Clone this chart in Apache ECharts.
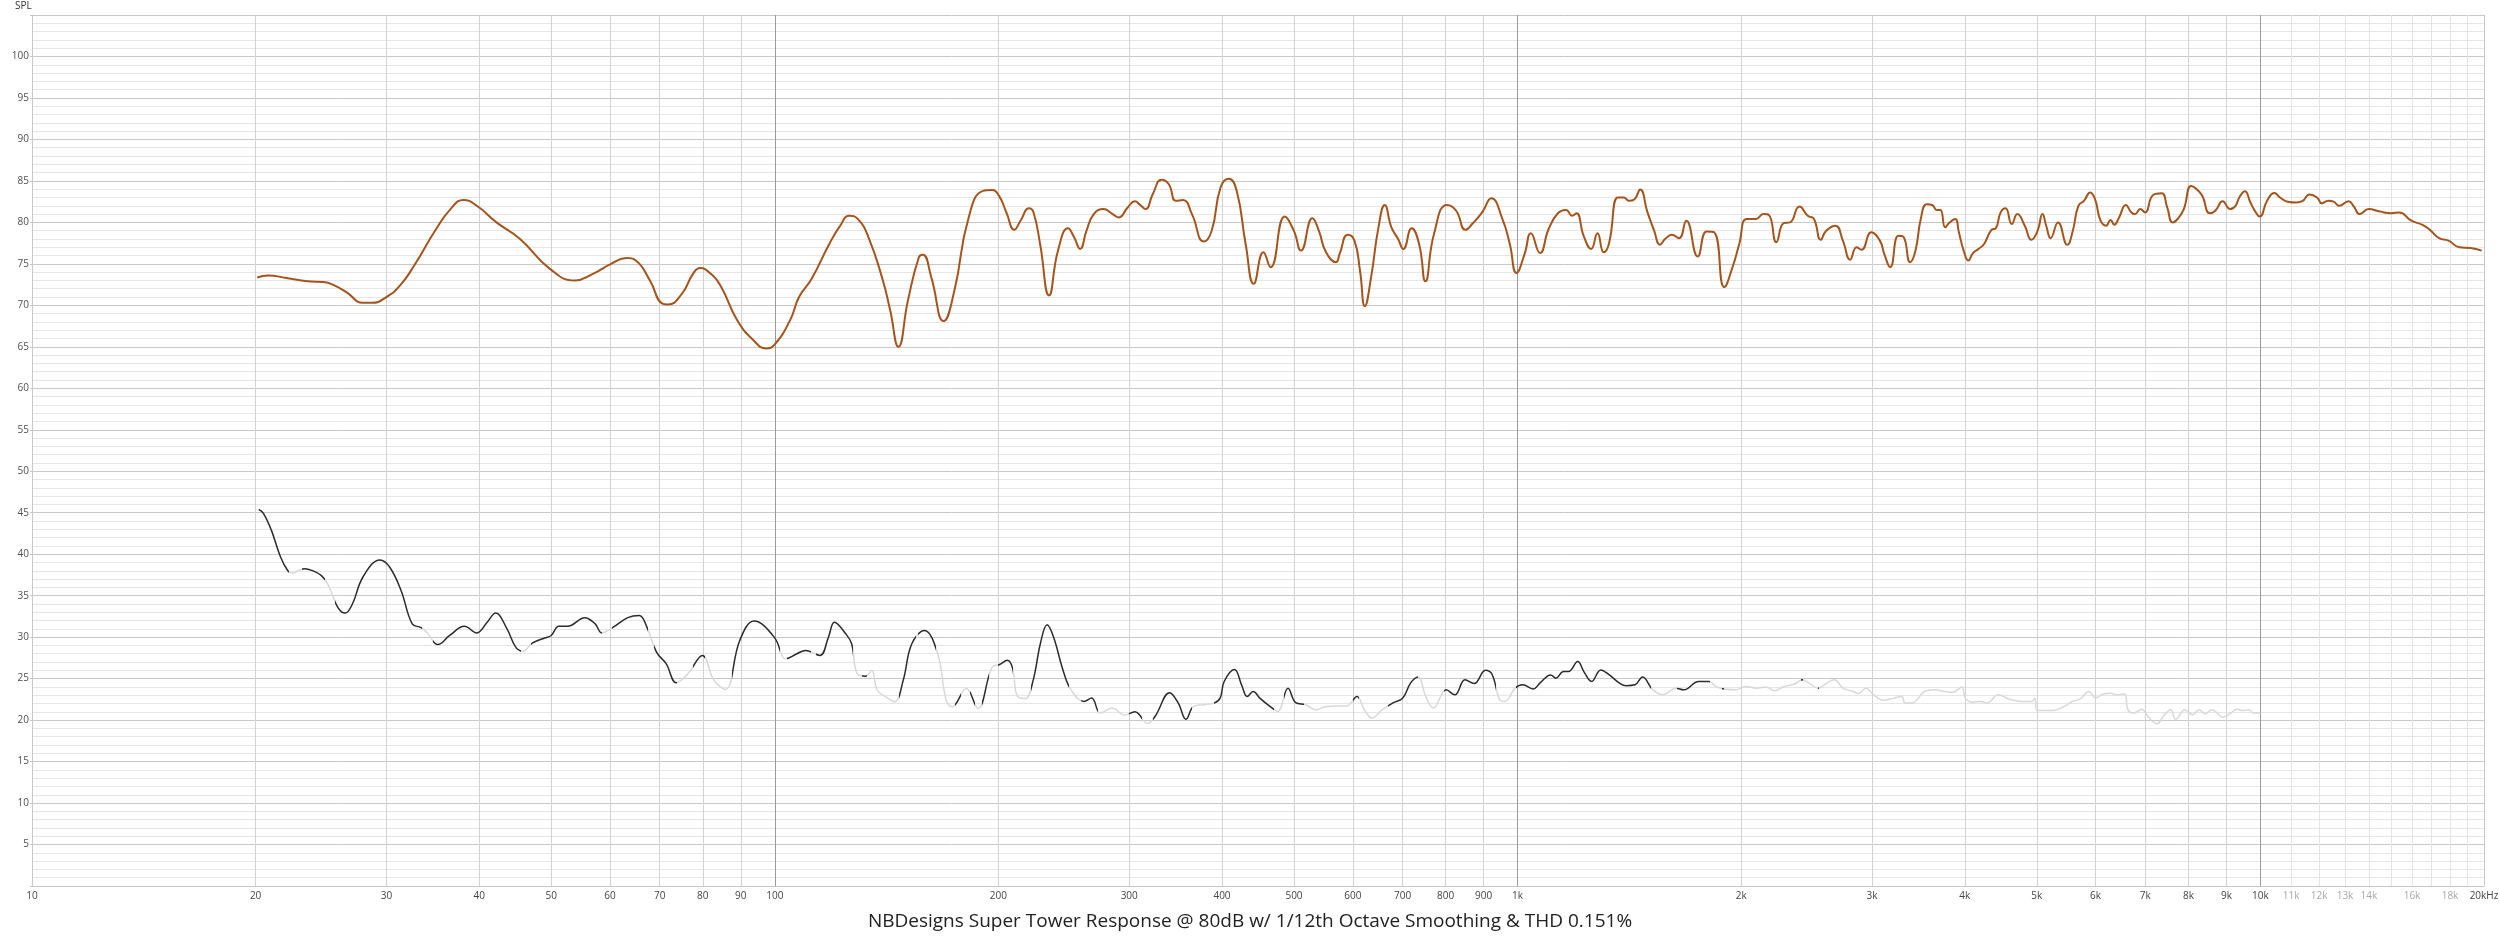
<!DOCTYPE html>
<html>
<head>
<meta charset="utf-8">
<script src="https://cdn.jsdelivr.net/npm/echarts@6/dist/echarts.min.js"></script>
<style>
html,body{margin:0;padding:0;background:#fff;}
#chart{width:2500px;height:939px;}
</style>
</head>
<body>
<div id="chart"></div>
<script>
// ---- Data ----
const splFreq = [20.1,20.8,22.0,23.5,24.7,25.4,26.5,27.9,28.7,30.0,31.3,32.7,35.0,36.6,38.1,39.7,42.2,45.4,49.8,53.8,56.9,60.2,63.2,65.0,67.9,70.6,71.8,75.0,77.6,79.3,82.0,84.7,89.0,93.6,97.3,100,104.9,107.8,112.1,118.4,122.5,125.9,129.4,133.7,139.8,143.0,146.7,151.1,156.3,158.3,162.4,168.8,174.5,182.4,190.7,196.0,200.4,205,210.1,214.2,219.9,223,227.6,234.0,240.6,248.2,252.9,257.6,262.8,268.8,277.2,284.0,290.4,298.6,305.3,310.4,315.6,322.7,331.8,339.2,346.8,354.5,364.4,378.0,387.4,398.2,408.5,418.6,430.4,441.4,454.8,465.0,486.0,499.7,511.0,529.4,540.0,552.2,569.7,576,590.5,603,613.5,622.8,635,649.7,662.5,676.3,690.4,701.7,720.1,736.9,751.4,771.7,803.4,826.6,850.8,870.4,896.0,921.8,954.1,976.1,996.6,1022,1042,1072,1101,1133,1162,1184,1200,1228,1256,1281,1306,1327,1365,1390,1412,1437,1462,1496,1527,1555,1580,1613,1649,1687,1748,1797,1839,1898,1947,1988,2034,2094,2142,2179,2230,2281,2326,2396,2458,2506,2559,2603,2679,2741,2804,2860,2903,2994,3074,3116,3174,3255,3304,3377,3433,3493,3554,3616,3665,3708,3764,3807,3882,3927,3986,4046,4102,4173,4246,4345,4404,4470,4538,4627,4707,4817,4917,5013,5089,5148,5219,5340,5496,5591,5688,5787,5901,5989,6093,6199,6285,6357,6453,6588,6703,6780,6890,6994,7172,7363,7491,7619,7752,7887,8069,8209,8352,8548,8694,8896,9103,9260,9367,9530,9695,9829,9977,10210,10445,10627,10873,11190,11385,11650,11920,12097,12338,12549,12765,13139,13365,13599,13996,14489,14993,15375,15969,16527,16911,17404,17911,18535,19183,19856];
const splDb = [73.35,73.6,73.3,72.9,72.8,72.5,71.6,70.3,70.3,71.0,72.4,74.8,79.2,81.6,82.7,82.0,80.0,78.0,74.4,73.0,73.8,75.0,75.7,75.4,73.0,70.2,70.1,71.4,73.8,74.5,73.8,72.2,68.2,65.8,64.8,65.3,68.25,71.0,73.2,77.4,79.6,80.8,80.4,78.2,73.0,69.4,65.0,70.6,75.8,76.1,73.4,68.1,71.8,80.6,83.8,83.9,83.2,81.2,79.1,80.2,81.7,81.2,77.4,71.2,76.6,79.3,78.2,76.8,79.0,81.0,81.6,81.1,80.6,81.8,82.55,82.1,81.6,83.4,85.15,84.6,82.6,82.7,81.0,77.7,79.0,84.2,85.25,83.8,77.4,72.6,76.4,74.6,80.7,79.0,76.6,80.5,79.0,76.4,75.2,76.2,78.5,77.8,74.2,69.9,73.4,79.4,82.1,79.4,78.0,76.8,79.3,77.4,72.9,78.6,82.1,81.4,79.1,79.9,81.2,82.9,80.4,77.4,73.9,76.2,78.7,76.3,79.2,81.1,81.5,80.8,81.1,78.3,76.8,78.7,76.4,77.4,83.0,83.0,82.6,82.8,83.95,81.2,79.0,77.3,78.0,78.5,78.1,80.2,75.9,78.9,78.8,72.2,74.6,77.4,80.4,80.4,81.0,80.9,77.6,79.9,80.0,81.9,80.8,80.4,77.9,79.0,79.6,77.8,75.5,77.0,76.7,78.8,77.8,76.2,74.6,78.4,78.3,75.2,76.6,80.6,82.2,82.1,81.5,81.5,79.4,79.9,80.4,78.8,76.6,75.4,76.3,76.8,77.4,79.1,79.3,81.2,81.7,79.8,81.0,79.6,77.9,79.0,81.0,79.6,78.1,80.0,77.3,79.0,82.0,82.6,83.6,82.8,80.2,79.6,80.3,79.7,80.6,82.1,81.2,81.0,81.6,81.2,83.3,83.5,81.8,80.0,80.5,81.6,84.4,84.0,83.2,81.1,81.4,82.55,81.6,82.0,83.0,83.75,82.4,81.4,80.7,82.6,83.55,83.0,82.5,82.4,82.55,83.35,83.0,82.3,82.6,82.5,82.0,82.55,81.9,81.0,81.6,81.3,81.1,81.2,80.2,79.7,79.1,78.1,77.8,77.0,76.9,76.6];

const thdFreq = [20.2,20.5,21.0,21.6,22.1,22.4,22.8,23.3,23.8,24.5,25.0,25.8,26.4,27.0,27.9,29.4,30.3,31.4,32.5,33.4,34.0,35.2,36.5,38.2,39.7,41.0,42.1,43.6,44.8,45.8,47.2,49.0,50.0,51.2,52.6,55.5,57.3,58.5,60.6,63.4,65.7,67.2,69.3,71.4,73.7,76.4,79.9,82.8,85.8,89.7,93.8,99.8,102.5,103.4,107.1,110.0,115.0,118.1,120.3,124.6,126.9,129.1,132.6,135.0,137.4,141.1,145.0,148.9,152.9,159.0,165.7,170.1,173.2,181.1,187.7,196.2,200.8,205.6,208.9,212.2,217.4,222.6,227.9,232.6,237.1,244.6,250.5,260.7,267.0,274.3,284.4,295.8,305.3,317.7,325.3,340.0,349.3,357.7,366.3,378.0,390.3,397.7,402.7,415.7,425.6,432.4,440.7,449.7,464.2,475.4,490.8,502.6,518.8,535.5,552.6,570.4,588.7,607.7,622.0,636.9,657.6,678.8,700.6,717.5,734.5,752.3,770.2,801.4,823.2,849.5,874.0,905.1,924.0,946.2,961.2,992.2,1016,1049,1074,1108,1126,1153,1171,1205,1228,1258,1294,1329,1372,1400,1439,1473,1521,1570,1633,1673,1753,1810,1853,1898,1967,2030,2096,2163,2215,2286,2360,2416,2473,2541,2615,2670,2743,2830,2875,2944,3015,3112,3212,3289,3326,3395,3532,3645,3762,3852,3963,4007,4104,4202,4282,4442,4585,4771,4923,4970,5001,5246,5415,5588,5723,5876,5999,6143,6290,6391,6566,6629,6756,6918,7084,7255,7428,7572,7691,7913,8100,8270,8430,8603,8910,9124,9298,9491,9643,9797,10000];
const thdDb = [45.4,44.9,42.9,39.7,38.0,37.7,38.0,38.25,38.05,37.45,36.45,33.6,32.9,34.0,37.25,39.3,38.45,35.6,31.6,31.15,30.6,29.1,30.2,31.3,30.5,31.8,32.9,31.0,28.8,28.3,29.3,29.9,30.2,31.3,31.3,32.35,31.6,30.5,31.2,32.35,32.6,31.3,28.2,26.8,24.5,25.6,27.8,24.8,23.7,29.6,31.95,30.0,27.6,27.4,28.0,28.4,27.8,30.0,31.8,30.4,29.2,25.6,25.3,26.0,23.6,22.8,22.2,24.8,29.2,30.8,28.0,22.4,21.6,23.8,21.4,26.4,26.7,27.2,26.3,22.85,22.6,24.7,29.3,31.5,30.1,25.9,23.65,22.25,22.65,20.85,21.45,20.6,21.0,19.6,20.5,23.3,22.05,20.1,21.65,21.85,22.05,22.65,24.65,26.1,24.1,22.85,23.45,22.65,21.65,21.05,23.85,22.1,21.85,21.25,21.65,21.7,21.7,22.85,21.25,20.25,21.25,22.05,22.65,24.45,25.2,22.85,21.45,23.65,23.05,24.85,24.4,26.0,25.5,22.45,22.25,23.85,24.25,23.75,24.55,25.45,25.05,25.85,25.85,27.05,25.85,24.65,26.05,25.45,24.45,24.15,24.25,25.2,23.65,23.05,23.85,23.65,24.65,24.65,24.0,23.75,23.65,24.05,23.85,24.0,23.55,24.05,24.35,24.85,24.4,23.85,24.55,24.85,23.85,23.45,23.2,23.85,23.05,22.4,22.65,22.85,22.05,22.05,23.45,23.65,23.45,23.35,24.0,22.65,22.15,22.25,22.05,23.05,22.55,22.25,22.25,22.65,21.15,21.15,21.55,22.25,22.55,23.45,22.65,23.15,23.25,23.05,23.15,21.3,20.85,21.3,20.25,19.55,20.65,21.25,20.1,21.25,20.65,21.25,20.75,21.25,20.35,20.85,21.3,21.15,21.25,20.85,20.85];

// frequency bands where the THD trace is drawn dark (elsewhere it is light grey)
const thdDarkBands = [[20,22.2],[23.1,24.8],[25.6,33.5],[34.7,45.6],[47,58.6],[60.3,67.4],[68.8,73.8],[77.5,80.5],[87.5,101.5],[104,112],[113.5,127.5],[131,133],[147,155],[156,165],[175,178],[183,186],[190,194.5],[200,209],[221,249],[258,272],[300,312],[323,365],[390,470],[485,516],[600,612],[670,735],[795,936],[995,1510],[1640,1815],[1885,1895],[2410,2420],[2538,2546]];

const yTicks = [5,10,15,20,25,30,35,40,45,50,55,60,65,70,75,80,85,90,95,100];
const xGridFreqs = [10,20,30,40,50,60,70,80,90,100,200,300,400,500,600,700,800,900,1000,2000,3000,4000,5000,6000,7000,8000,9000,10000,11000,12000,13000,14000,15000,16000,17000,18000,19000,20000];
const xGridLabels = ['10','20','30','40','50','60','70','80','90','100','200','300','400','500','600','700','800','900','1k','2k','3k','4k','5k','6k','7k','8k','9k','10k','11k','12k','13k','14k','','16k','','18k','','20kHz'];
const titleText = 'NBDesigns Super Tower Response @ 80dB w/ 1/12th Octave Smoothing & THD 0.151%';

// ---- Build ----
const splData = splFreq.map((f, i) => [f, splDb[i]]);
const thdData = thdFreq.map((f, i) => [f, thdDb[i]]);

function isDecade(f) { return f === 10 || f === 100 || f === 1000 || f === 10000; }
const gridLineItems = xGridFreqs.map((f, i) => {
  let lineColor = '#d2d2d2', labelColor = '#444';
  if (isDecade(f)) lineColor = '#9a9a9a';
  if (f > 10000 && f < 20000) { lineColor = '#e4e4e4'; labelColor = '#a8a8a8'; }
  if (f === 20000) lineColor = '#c8c8c8';
  if (f === 10) lineColor = '#c8c8c8';
  return {
    xAxis: f,
    lineStyle: { color: lineColor, width: 1, type: 'solid' },
    label: { formatter: xGridLabels[i], color: labelColor }
  };
});

const chart = echarts.init(document.getElementById('chart'), null, { renderer: 'canvas' });
chart.setOption({
  animation: false,
  backgroundColor: '#ffffff',
  textStyle: { fontFamily: '"Open Sans", "Noto Sans", sans-serif' },
  title: {
    text: titleText,
    left: 'center',
    top: 907,
    textStyle: { fontSize: 19, fontWeight: 'normal', color: '#222', fontFamily: '"Open Sans", "Noto Sans", sans-serif' }
  },
  graphic: [{
    type: 'text', left: 15, top: 1,
    style: { text: 'SPL', fontSize: 10, fill: '#333', fontFamily: '"Open Sans", sans-serif' }
  }],
  grid: { left: 32, right: 16, top: 15, bottom: 53 },
  xAxis: {
    type: 'log', logBase: 10, min: 10, max: 20000,
    axisLine: { show: true, lineStyle: { color: '#c6c6c6', width: 1 } },
    axisTick: { show: false },
    axisLabel: { show: false },
    splitLine: { show: false }
  },
  yAxis: {
    type: 'value', min: 0, max: 105, interval: 5,
    axisLine: { show: true, lineStyle: { color: '#c6c6c6', width: 1 } },
    axisTick: { show: true, length: 2, lineStyle: { color: '#c6c6c6' } },
    axisLabel: {
      margin: 3, fontSize: 10, color: '#505050',
      formatter: v => (yTicks.indexOf(v) >= 0 ? String(v) : '')
    },
    splitLine: { show: true, lineStyle: { color: '#c8c8c8', width: 1 } },
    minorTick: { show: false, splitNumber: 5 },
    minorSplitLine: { show: true, lineStyle: { color: '#e6e6e6', width: 1 } }
  },
  visualMap: {
    show: false,
    type: 'piecewise',
    seriesIndex: 1,
    dimension: 0,
    pieces: thdDarkBands.map(b => ({ gte: b[0], lte: b[1], color: '#2b2b2b' })),
    outOfRange: { color: '#d8d8d8' }
  },
  series: [
    {
      type: 'line',
      name: 'SPL',
      z: 3,
      data: splData,
      showSymbol: false,
      smooth: 0.5,
      lineStyle: { color: '#a4541c', width: 2 },
      itemStyle: { color: '#a4541c' },
      markLine: {
        z: 1,
        silent: true,
        animation: false,
        symbol: ['none', 'none'],
        label: { show: true, position: 'start', distance: 5, fontSize: 10, fontFamily: '"Open Sans", sans-serif' },
        emphasis: { disabled: true },
        data: gridLineItems
      }
    },
    {
      type: 'line',
      name: 'THD',
      z: 2,
      data: thdData,
      showSymbol: false,
      smooth: 0.4,
      lineStyle: { width: 1.5 }
    }
  ]
});
</script>
</body>
</html>
